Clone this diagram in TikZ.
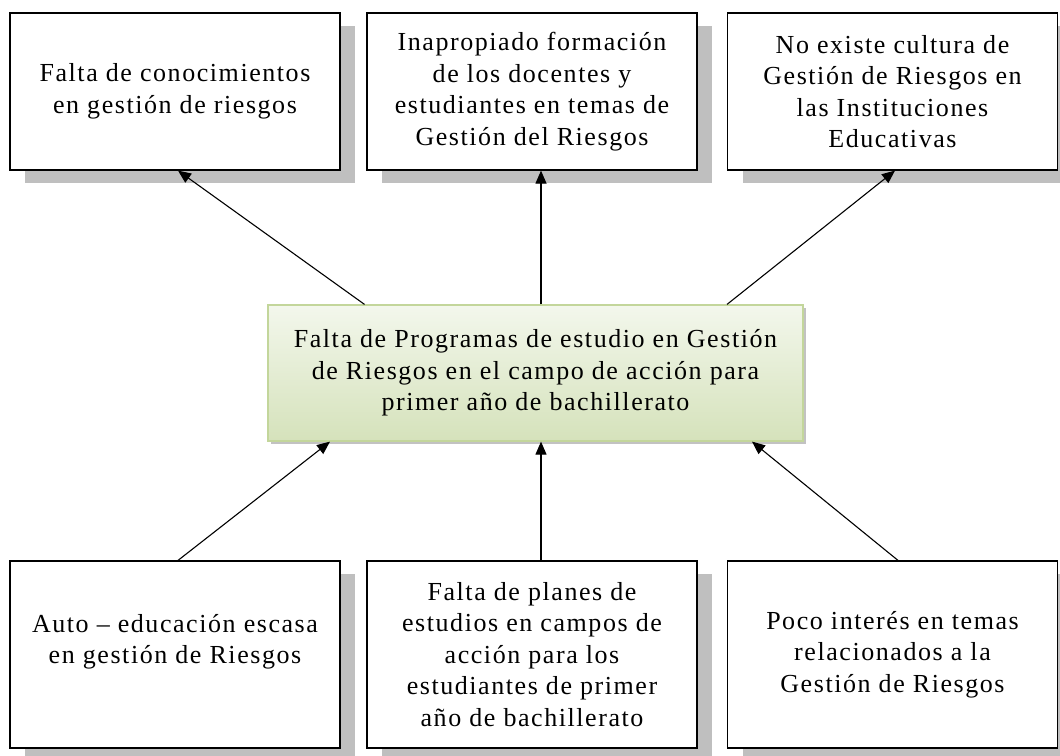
\documentclass[tikz,border=0pt]{standalone}
\usepackage{fontspec}
\setmainfont{Liberation Serif}[LetterSpace=6]
\usetikzlibrary{arrows.meta,shadows}
\definecolor{verdeclaro}{HTML}{F3F7EC}
\definecolor{verde}{HTML}{D5E2BB}
\definecolor{bordeverde}{HTML}{C3D69B}
\tikzset{
  caja/.style={draw, line width=1.2pt, fill=white, align=center,
    font=\fontsize{26}{31.5}\selectfont,
    drop shadow={shadow xshift=15pt, shadow yshift=-13pt, fill=black!25, opacity=1}},
  efecto/.style={caja, minimum width=330pt, minimum height=157pt},
  causa/.style={caja, minimum width=330pt, minimum height=187pt},
  problema/.style={draw=bordeverde, line width=1.2pt, top color=verdeclaro,
    bottom color=verde, align=center, minimum width=535pt, minimum height=136pt,
    font=\fontsize{26}{31.5}\selectfont,
    drop shadow={shadow xshift=3pt, shadow yshift=-3pt, fill=black!40, opacity=0.6}},
  flecha/.style={-{Triangle[length=13pt,width=11pt]}, line width=1.1pt}
}
\begin{document}
\begin{tikzpicture}[x=1pt,y=-1pt]
  \useasboundingbox (0,0) rectangle (1060,755);
  \node[efecto] (efecto1) at (175,91.5) {Falta de conocimientos\\en gestión de riesgos};
  \node[efecto] (efecto2) at (532,91.5) {Inapropiado formación\\de los docentes y\\estudiantes en temas de\\Gestión del Riesgos};
  \node[efecto] (efecto3) at (892.5,91.5) {No existe cultura de\\Gestión de Riesgos en\\las Instituciones\\Educativas};
  \node[problema] (problema) at (535.5,373) {Falta de Programas de estudio en Gestión\\de Riesgos en el campo de acción para\\primer año de bachillerato};
  \node[causa] (causa1) at (175,654.5) {Auto – educación escasa\\en gestión de Riesgos\\~};
  \node[causa] (causa2) at (532,654.5) {Falta de planes de\\estudios en campos de\\acción para los\\estudiantes de primer\\año de bachillerato};
  \node[causa] (causa3) at (892.5,654.5) {Poco interés en temas\\relacionados a la\\Gestión de Riesgos};
  \begin{scope}[flecha]
    \draw ([xshift=-171pt]problema.north) to ([xshift=3pt]efecto1.south);
    \draw ([xshift=5.5pt]problema.north) to ([xshift=9pt]efecto2.south);
    \draw ([xshift=191.5pt]problema.north) to ([xshift=2.5pt]efecto3.south);
    \draw ([xshift=3pt]causa1.north) to ([xshift=-205.5pt]problema.south);
    \draw ([xshift=9pt]causa2.north) to ([xshift=5.5pt]problema.south);
    \draw ([xshift=5.5pt]causa3.north) to ([xshift=216.5pt]problema.south);
  \end{scope}
\end{tikzpicture}
\end{document}
